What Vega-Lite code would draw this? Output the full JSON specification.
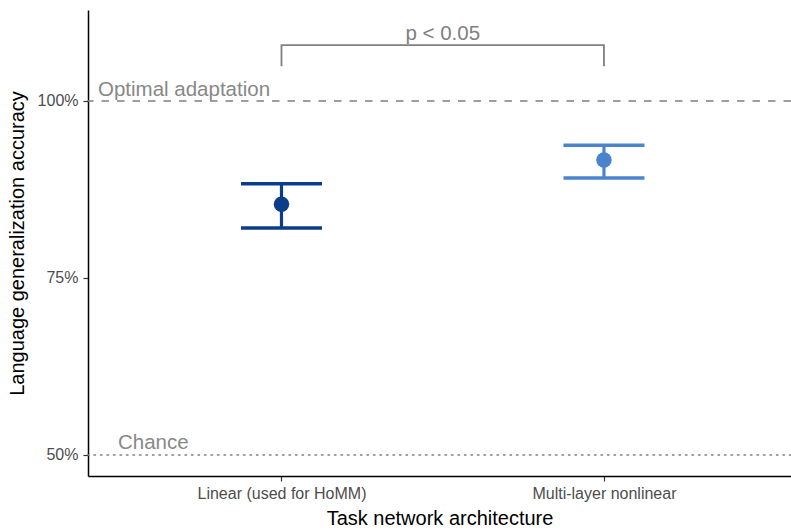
{
  "$schema": "https://vega.github.io/schema/vega-lite/v6.json",
  "width": 703,
  "height": 466,
  "autosize": {"type": "none"},
  "padding": {"left": 88, "top": 10, "right": 0, "bottom": 55},
  "background": "white",
  "config": {
    "font": "Liberation Sans",
    "view": {"stroke": null},
    "axis": {
      "grid": false,
      "domainColor": "black",
      "domainWidth": 1.5,
      "tickColor": "#333333",
      "tickSize": 5,
      "tickWidth": 1.2,
      "labelColor": "#4d4d4d",
      "labelFontSize": 16,
      "labelFont": "Liberation Sans",
      "titleFont": "Liberation Sans",
      "titleFontSize": 20,
      "titleFontWeight": "normal",
      "titleColor": "black"
    }
  },
  "datasets": {
    "acc": [
      {"arch": "Linear (used for HoMM)", "k": 1, "mean": 0.854, "lo": 0.8206, "hi": 0.883},
      {"arch": "Multi-layer nonlinear", "k": 2, "mean": 0.9167, "lo": 0.8912, "hi": 0.9374}
    ],
    "refs": [
      {"label": "Optimal adaptation", "y": 1.0, "kind": "optimal", "tx": 0.431, "ty": 1.007},
      {"label": "Chance", "y": 0.5, "kind": "chance", "tx": 0.493, "ty": 0.5085}
    ],
    "bracket": [
      {"k": 1, "y": 1.049, "o": 1},
      {"k": 1, "y": 1.079, "o": 2},
      {"k": 2, "y": 1.079, "o": 3},
      {"k": 2, "y": 1.049, "o": 4}
    ],
    "sig": [
      {"k": 1.5, "y": 1.086, "label": "p < 0.05"}
    ]
  },
  "encoding": {
    "x": {
      "type": "quantitative",
      "scale": {"domain": [0.4, 2.58], "nice": false, "zero": false},
      "axis": {
        "values": [1, 2],
        "labelExpr": "datum.value == 1 ? 'Linear (used for HoMM)' : 'Multi-layer nonlinear'",
        "title": "Task network architecture",
        "labelPadding": 4,
        "titlePadding": 7
      }
    },
    "y": {
      "type": "quantitative",
      "scale": {"domain": [0.4703, 1.1285], "nice": false, "zero": false},
      "axis": {
        "values": [0.5, 0.75, 1.0],
        "format": ".0%",
        "title": "Language generalization accuracy",
        "labelPadding": 5,
        "titlePadding": 10
      }
    }
  },
  "layer": [
    {
      "data": {"name": "refs"},
      "transform": [{"filter": "datum.kind == 'optimal'"}],
      "mark": {"type": "rule", "color": "#7f7f7f", "strokeWidth": 1.5, "strokeDash": [7.5, 8]},
      "encoding": {"y": {"field": "y"}}
    },
    {
      "data": {"name": "refs"},
      "transform": [{"filter": "datum.kind == 'chance'"}],
      "mark": {"type": "rule", "color": "#7f7f7f", "strokeWidth": 1.5, "strokeDash": [1.5, 5], "strokeCap": "round"},
      "encoding": {"y": {"field": "y"}}
    },
    {
      "data": {"name": "refs"},
      "mark": {"type": "text", "align": "left", "baseline": "alphabetic", "fontSize": 20.5, "color": "#888888"},
      "encoding": {
        "x": {"field": "tx"},
        "y": {"field": "ty"},
        "text": {"field": "label"}
      }
    },
    {
      "data": {"name": "bracket"},
      "mark": {"type": "line", "color": "#808080", "strokeWidth": 1.8, "interpolate": "linear"},
      "encoding": {
        "x": {"field": "k"},
        "y": {"field": "y"},
        "order": {"field": "o"}
      }
    },
    {
      "data": {"name": "sig"},
      "mark": {"type": "text", "align": "center", "baseline": "alphabetic", "fontSize": 20.5, "color": "#808080"},
      "encoding": {
        "x": {"field": "k"},
        "y": {"field": "y"},
        "text": {"field": "label"}
      }
    },
    {
      "data": {"name": "acc"},
      "mark": {"type": "rule", "strokeWidth": 3.2, "opacity": 1},
      "encoding": {
        "x": {"field": "k"},
        "y": {"field": "lo"},
        "y2": {"field": "hi"},
        "color": {"field": "arch", "type": "nominal", "scale": {"range": ["#0b3d89", "#4a84cd"]}, "legend": null}
      }
    },
    {
      "data": {"name": "acc"},
      "mark": {"type": "tick", "orient": "horizontal", "size": 81, "thickness": 3.4, "opacity": 1},
      "encoding": {
        "x": {"field": "k"},
        "y": {"field": "lo"},
        "color": {"field": "arch", "type": "nominal", "legend": null}
      }
    },
    {
      "data": {"name": "acc"},
      "mark": {"type": "tick", "orient": "horizontal", "size": 81, "thickness": 3.4, "opacity": 1},
      "encoding": {
        "x": {"field": "k"},
        "y": {"field": "hi"},
        "color": {"field": "arch", "type": "nominal", "legend": null}
      }
    },
    {
      "data": {"name": "acc"},
      "mark": {"type": "point", "filled": true, "opacity": 1, "size": 240},
      "encoding": {
        "x": {"field": "k"},
        "y": {"field": "mean"},
        "color": {"field": "arch", "type": "nominal", "legend": null}
      }
    }
  ]
}
